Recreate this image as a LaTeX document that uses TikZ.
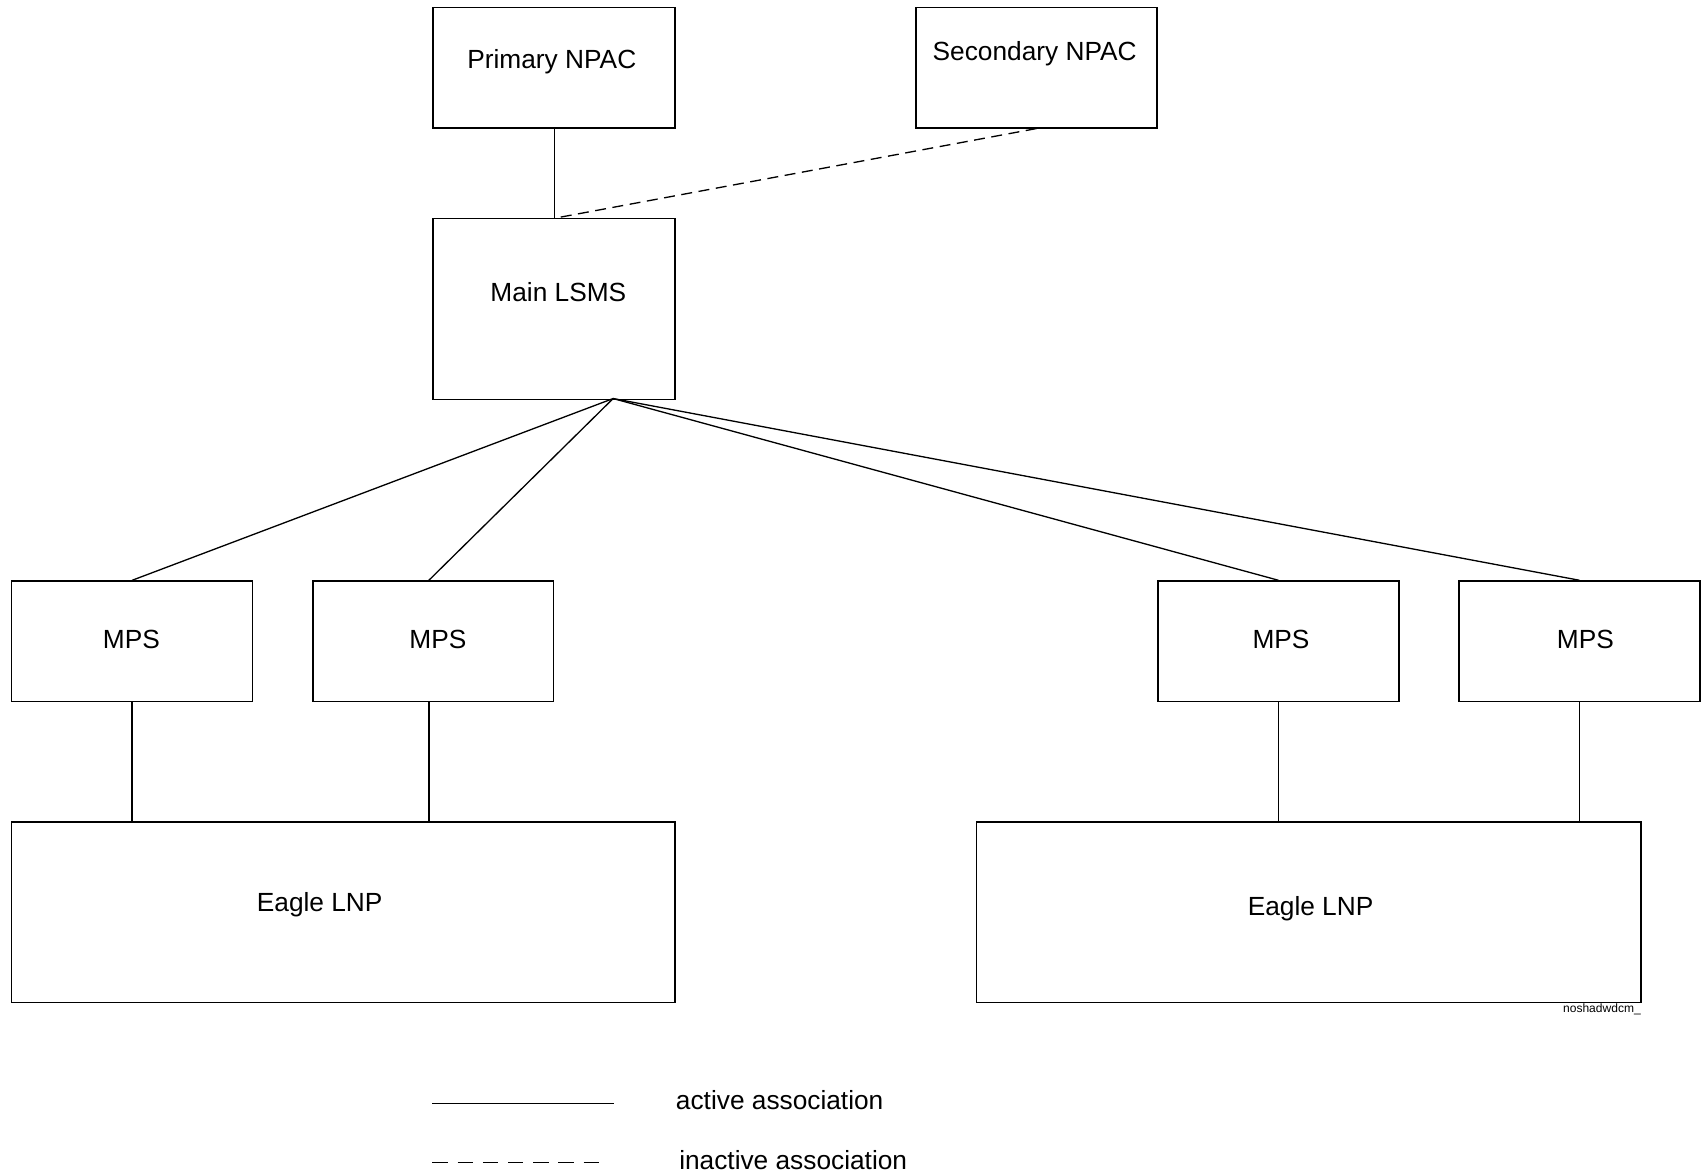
\documentclass[tikz,border=0pt]{standalone}
\usepackage{fontspec}
\setmainfont{Liberation Sans}
\tikzset{
  box/.style = {draw, line width = 0.7pt, anchor = north west, inner sep = 0pt},
  lbl/.style = {font = \fontsize{12}{14}\selectfont},
  assoc/.style = {line width = 0.6pt},
  inactive/.style = {assoc, dash pattern = on 5pt off 3pt},
}
\begin{document}
\begin{tikzpicture}[x = 0.5pt, y = -0.5pt]
            \useasboundingbox (0,0) rectangle (1560,1073);
            %% servers
            \node [box, minimum width = 110.5pt, minimum height = 55pt] (pnpac) at (395,6) {};
            \node [box, minimum width = 110pt, minimum height = 55pt] (snpac) at (836,6) {};
            \node [box, minimum width = 110.5pt, minimum height = 82.5pt] (lsms) at (395,199) {};
            \node [lbl] (pnpacT) at (504,56) {Primary NPAC};
            \node [lbl] (snpacT) at (945,49) {Secondary NPAC};
            \node [lbl] (lsmsT) at (510,267) {Main LSMS};
            %% mps nodes
            \foreach \n/\x/\tx in {1/10/120, 2/285/400, 3/1057/1170, 4/1332/1448} {
              \node [box, minimum width = 110pt, minimum height = 55pt] (mps\n) at (\x,530) {};
              \node [lbl] (mps\n T) at (\tx,584) {MPS};
            }
            %% eagles
            \node [box, minimum width = 303pt, minimum height = 82.5pt] (eagleA) at (10,750) {};
            \node [box, minimum width = 303.5pt, minimum height = 82.5pt] (eagleB) at (891,750) {};
            \node [lbl] (eagleAT) at (292,826) {Eagle LNP};
            \node [lbl] (eagleBT) at (1197,830) {Eagle LNP};
            \node [font = \fontsize{5.5}{6}\selectfont, anchor = north east, inner sep = 0pt] (tag) at (1499,916) {noshadwdcm\_};
            %% associations
            \coordinate (fan) at (560,364);
            \draw [assoc] (pnpac.south) -- (lsms.north);
            \draw [inactive] (snpac.south) -- ([xshift = 1pt]lsms.north);
            \draw [assoc] (fan) -- (mps1.north);
            \draw [assoc] (fan) -- ([xshift = -2pt]mps2.north);
            \draw [assoc] (fan) -- (mps3.north);
            \draw [assoc] (fan) -- (mps4.north);
            \draw [assoc] (mps1.south) -- (mps1.south |- eagleA.north);
            \draw [assoc] ([xshift = -2pt]mps2.south) -- ([xshift = -2pt]mps2.south |- eagleA.north);
            \draw [assoc] (mps3.south) -- (mps3.south |- eagleB.north);
            \draw [assoc] (mps4.south) -- (mps4.south |- eagleB.north);
            %% legend
            \coordinate (la1) at (395,1008);
            \coordinate (la2) at (561,1008);
            \coordinate (li1) at (395,1062);
            \coordinate (li2) at (555,1062);
            \draw [assoc] (la1) -- (la2);
            \draw [inactive, dash pattern = on 7pt off 4.5pt] (li1) -- (li2);
            \node [lbl, anchor = west, inner sep = 0pt] (activeT) at (617,1005) {active association};
            \node [lbl, anchor = west, inner sep = 0pt] (inactiveT) at (620,1060) {inactive association};
\end{tikzpicture}
\end{document}
